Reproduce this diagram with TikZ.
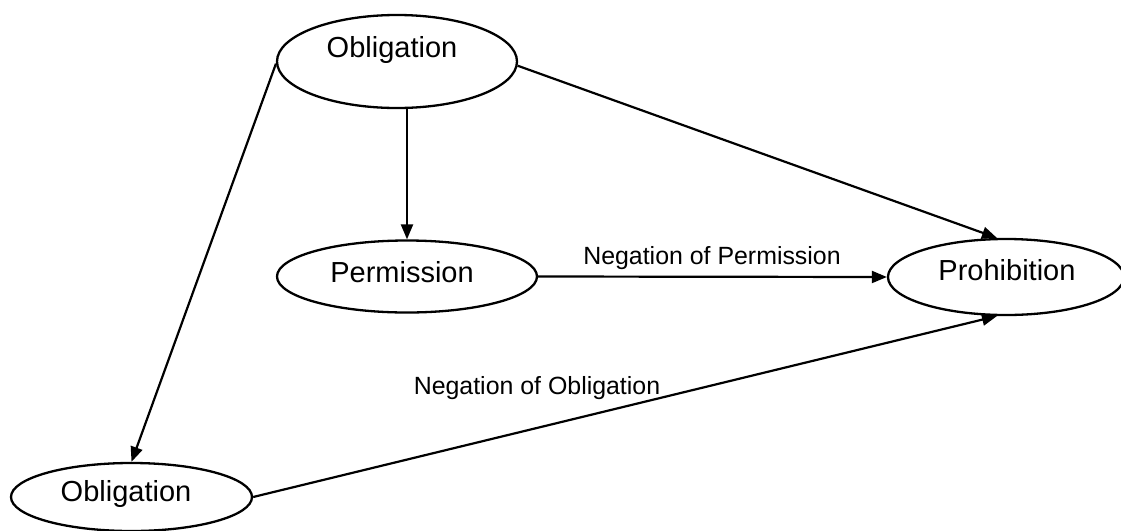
\documentclass[tikz,border=0pt]{standalone}
\usepackage{fontspec}
\setmainfont{Liberation Sans}
\usetikzlibrary{shapes.geometric,arrows.meta}
\tikzset{
  oval/.style={draw, ellipse, line width=1.15pt, inner sep=0pt},
  nodetext/.style={font=\fontsize{14.5}{16}\selectfont, inner sep=0pt},
  edgetext/.style={font=\fontsize{12.45}{14}\selectfont, inner sep=0pt},
  link/.style={line width=1.1pt, -{Triangle[length=7.5pt,width=6pt]}}
}
\begin{document}
\begin{tikzpicture}[x=0.5pt,y=-0.5pt]
  \useasboundingbox (0,0) rectangle (1121,531);
  \clip (0,0) rectangle (1121,531);
  % deontic concepts
  \node[oval, minimum width=120pt, minimum height=46.5pt] (obl) at (397,61.5) {};
  \node[nodetext] (oblt) at (392,50) {Obligation};
  \node[oval, minimum width=130pt, minimum height=36pt] (perm) at (407,276.5) {};
  \node[nodetext] (permt) at (402,272) {Permission};
  \node[oval, minimum width=118pt, minimum height=38pt] (proh) at (1006,277) {};
  \node[nodetext] (proht) at (1007,270) {Prohibition};
  \node[oval, minimum width=120.5pt, minimum height=34pt] (obl2) at (131.5,497) {};
  \node[nodetext] (obl2t) at (126,494) {Obligation};
  % relations
  \draw[link] (perm.north |- obl.south) -- (perm.north);
  \draw[link] (obl.-2) -- (proh.103);
  \draw[link] (obl.181) -- (obl2.north);
  \draw[link] (perm.east) -- (proh.west);
  \draw[link] (obl2.east) -- (proh.257);
  % edge labels
  \node[edgetext] (lperm) at (712,258) {Negation of Permission};
  \node[edgetext] (lobl) at (537,388) {Negation of Obligation};
\end{tikzpicture}
\end{document}
